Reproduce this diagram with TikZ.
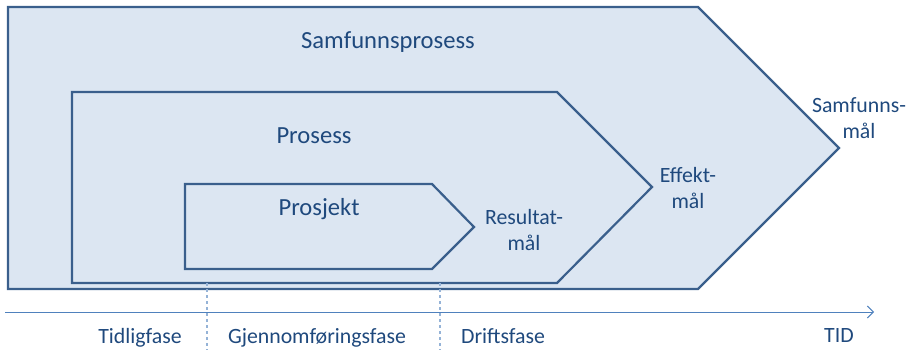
\documentclass[tikz,border=0pt]{standalone}
\usepackage{fontspec}
\setmainfont{Carlito}
\usetikzlibrary{arrows.meta, positioning}
\definecolor{boxfill}{HTML}{DCE6F2}
\definecolor{boxline}{HTML}{3A5F8C}
\definecolor{txtblue}{HTML}{1F497D}
\definecolor{axisblue}{HTML}{4F81BD}
\definecolor{dashblue}{HTML}{95B3D7}

\begin{document}
\begin{tikzpicture}[x=1pt, y=-1pt,
  phase/.style={fill=boxfill, draw=boxline, line width=2.2pt},
  title/.style={text=txtblue, font=\fontsize{24.6}{29}\selectfont, anchor=base, inner sep=0pt},
  goal/.style={text=txtblue, font=\fontsize{21.8}{26.5}\selectfont, align=center, inner sep=0pt},
  period/.style={text=txtblue, font=\fontsize{21.8}{26}\selectfont, anchor=base, inner sep=0pt},
  axis/.style={draw=axisblue, line width=1pt, -{Straight Barb[length=6pt, width=12pt, line width=1pt]}},
  divider/.style={draw=dashblue, line width=1.2pt, dash pattern=on 3pt off 3pt},
]
  \useasboundingbox (0,0) rectangle (913,350);

  % the three phases, outer to inner
  \draw[phase] (8,7) -- (698,7) -- (839,148) -- (698,289) -- (8,289) -- cycle;
  \draw[phase] (72,92) -- (557,92) -- (652,187) -- (557,283) -- (72,283) -- cycle;
  \draw[phase] (185,184) -- (432,184) -- (474,227) -- (432,269) -- (185,269) -- cycle;

  \node[title] (samf) at (388,49) {Samfunnsprosess};
  \node[title] (prosess) at (314,143) {Prosess};
  \node[title] (prosjekt) at (319,215) {Prosjekt};

  \node[goal] (samfmaal) at (859,118) {Samfunns-\\mål};
  \node[goal] (effektmaal) at (688,188) {Effekt-\\mål};
  \node[goal] (resultatmaal) at (524,230) {Resultat-\\mål};

  % time axis
  \coordinate (t0) at (5,312);
  \coordinate (t1) at (874,312);
  \draw[axis] (t0) -- (t1);

  \coordinate (d1top) at (207,283);
  \coordinate (d1bot) at (207,350);
  \coordinate (d2top) at (440,283);
  \coordinate (d2bot) at (440,350);
  \draw[divider] (d1top) -- (d1bot);
  \draw[divider] (d2top) -- (d2bot);

  \node[period] (tidlig) at (140,343) {Tidligfase};
  \node[period] (gjennom) at (317,343) {Gjennomføringsfase};
  \node[period] (drift) at (503,343) {Driftsfase};
  \node[period] (tid) at (839,342) {TID};
\end{tikzpicture}
\end{document}
